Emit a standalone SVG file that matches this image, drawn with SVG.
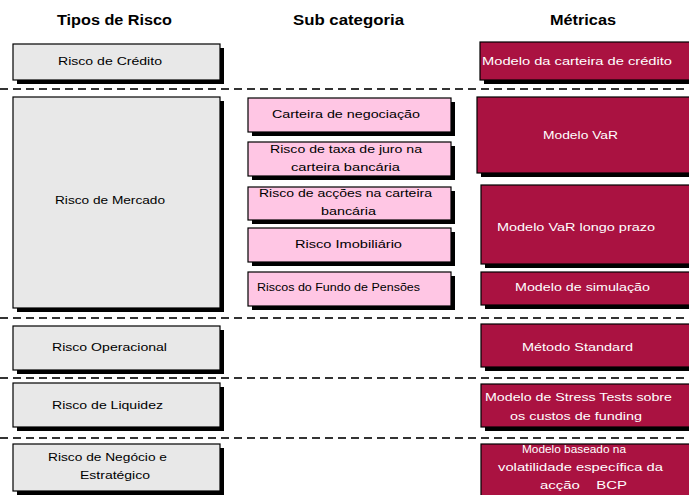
<svg xmlns="http://www.w3.org/2000/svg" width="689" height="495" viewBox="0 0 689 495">
<style>
.hd{font-family:"Liberation Sans",Arial,sans-serif;font-size:14px;font-weight:bold;fill:#000}
.t{font-family:"Liberation Sans",Arial,sans-serif;font-size:11px;fill:#000}
.w{font-family:"Liberation Sans",Arial,sans-serif;font-size:11px;fill:#fff}
.sh{fill:#000}
.g{fill:#e8e8e8;stroke:#000;stroke-width:1.2}
.p{fill:#ffc6e4;stroke:#000;stroke-width:1.2}
.r{fill:#aa1241;stroke:#000;stroke-width:1.2}
.d{stroke:#333;stroke-width:2;stroke-dasharray:8,5;fill:none}
</style>
<rect width="689" height="495" fill="#fff"/>
<g id="headers">
<text class="hd" x="57" y="25" textLength="115" lengthAdjust="spacingAndGlyphs">Tipos de Risco</text>
<text class="hd" x="293" y="25" textLength="111" lengthAdjust="spacingAndGlyphs">Sub categoria</text>
<text class="hd" x="550" y="25" textLength="66" lengthAdjust="spacingAndGlyphs">Métricas</text>
</g>
<g id="separators">
<line class="d" x1="0" y1="89" x2="689" y2="89"/>
<line class="d" x1="0" y1="318" x2="689" y2="318"/>
<line class="d" x1="0" y1="378" x2="689" y2="378"/>
<line class="d" x1="0" y1="438" x2="689" y2="438"/>
</g>
<g id="risco-credito">
<rect class="sh" x="17" y="48" width="207" height="36"/>
<rect class="g" x="13" y="44" width="207" height="36"/>
<text class="t" x="58" y="65" textLength="104" lengthAdjust="spacingAndGlyphs">Risco de Crédito</text>
</g>
<g id="risco-mercado">
<rect class="sh" x="17" y="101" width="207" height="211"/>
<rect class="g" x="13" y="97" width="207" height="211"/>
<text class="t" x="55" y="204" textLength="110" lengthAdjust="spacingAndGlyphs">Risco de Mercado</text>
</g>
<g id="risco-operacional">
<rect class="sh" x="17" y="330" width="207" height="44"/>
<rect class="g" x="13" y="326" width="207" height="44"/>
<text class="t" x="52" y="351" textLength="115" lengthAdjust="spacingAndGlyphs">Risco Operacional</text>
</g>
<g id="risco-liquidez">
<rect class="sh" x="17" y="387" width="207" height="44"/>
<rect class="g" x="13" y="383" width="207" height="44"/>
<text class="t" x="52" y="409" textLength="111" lengthAdjust="spacingAndGlyphs">Risco de Liquidez</text>
</g>
<g id="risco-negocio">
<rect class="sh" x="17" y="448" width="207" height="47"/>
<rect class="g" x="13" y="444" width="207" height="47"/>
<text class="t" x="48" y="461" textLength="119" lengthAdjust="spacingAndGlyphs">Risco de Negócio e</text>
<text class="t" x="80" y="479" textLength="70" lengthAdjust="spacingAndGlyphs">Estratégico</text>
</g>
<g id="sub-carteira-negociacao">
<rect class="sh" x="252" y="102" width="203" height="34"/>
<rect class="p" x="248" y="98" width="203" height="34"/>
<text class="t" x="272" y="118" textLength="148" lengthAdjust="spacingAndGlyphs">Carteira de negociação</text>
</g>
<g id="sub-taxa-juro">
<rect class="sh" x="252" y="146" width="203" height="34"/>
<rect class="p" x="248" y="142" width="203" height="34"/>
<text class="t" x="270" y="153" textLength="152" lengthAdjust="spacingAndGlyphs">Risco de taxa de juro na</text>
<text class="t" x="291" y="171" textLength="109" lengthAdjust="spacingAndGlyphs">carteira bancária</text>
</g>
<g id="sub-accoes">
<rect class="sh" x="252" y="191" width="203" height="33"/>
<rect class="p" x="248" y="187" width="203" height="33"/>
<text class="t" x="259" y="197" textLength="173" lengthAdjust="spacingAndGlyphs">Risco de acções na carteira</text>
<text class="t" x="321" y="215" textLength="55" lengthAdjust="spacingAndGlyphs">bancária</text>
</g>
<g id="sub-imobiliario">
<rect class="sh" x="252" y="232" width="203" height="34"/>
<rect class="p" x="248" y="228" width="203" height="34"/>
<text class="t" x="295" y="248" textLength="107" lengthAdjust="spacingAndGlyphs">Risco Imobiliário</text>
</g>
<g id="sub-fundo-pensoes">
<rect class="sh" x="252" y="276" width="203" height="34"/>
<rect class="p" x="248" y="272" width="203" height="34"/>
<text class="t" x="257" y="291" textLength="163" lengthAdjust="spacingAndGlyphs">Riscos do Fundo de Pensões</text>
</g>
<g id="met-carteira-credito">
<rect class="sh" x="484" y="46" width="220" height="38"/>
<rect class="r" x="480" y="42" width="220" height="38"/>
<text class="w" x="482" y="65" textLength="190" lengthAdjust="spacingAndGlyphs">Modelo da carteira de crédito</text>
</g>
<g id="met-var">
<rect class="sh" x="481" y="101" width="220" height="76"/>
<rect class="r" x="477" y="97" width="220" height="76"/>
<text class="w" x="543" y="139" textLength="75" lengthAdjust="spacingAndGlyphs">Modelo VaR</text>
</g>
<g id="met-var-longo">
<rect class="sh" x="485" y="189" width="220" height="79"/>
<rect class="r" x="481" y="185" width="220" height="79"/>
<text class="w" x="497" y="231" textLength="158" lengthAdjust="spacingAndGlyphs">Modelo VaR  longo prazo</text>
</g>
<g id="met-simulacao">
<rect class="sh" x="485" y="276" width="220" height="33"/>
<rect class="r" x="481" y="272" width="220" height="33"/>
<text class="w" x="515" y="291" textLength="135" lengthAdjust="spacingAndGlyphs">Modelo de simulação</text>
</g>
<g id="met-standard">
<rect class="sh" x="485" y="328" width="220" height="43"/>
<rect class="r" x="481" y="324" width="220" height="43"/>
<text class="w" x="522" y="351" textLength="111" lengthAdjust="spacingAndGlyphs">Método Standard</text>
</g>
<g id="met-stress">
<rect class="sh" x="485" y="388" width="220" height="43"/>
<rect class="r" x="481" y="384" width="220" height="43"/>
<text class="w" x="485" y="401" textLength="187" lengthAdjust="spacingAndGlyphs">Modelo de Stress Tests sobre</text>
<text class="w" x="510" y="420" textLength="132" lengthAdjust="spacingAndGlyphs">os custos de funding</text>
</g>
<g id="met-volatilidade">
<rect class="sh" x="485" y="448" width="220" height="52"/>
<rect class="r" x="481" y="444" width="220" height="52"/>
<text class="w" x="522" y="453" textLength="104" lengthAdjust="spacingAndGlyphs">Modelo baseado na</text>
<text class="w" x="498" y="471" textLength="165" lengthAdjust="spacingAndGlyphs">volatilidade específica da</text>
<text class="w" x="540" y="489" textLength="87" lengthAdjust="spacingAndGlyphs" xml:space="preserve">acção    BCP</text>
</g>
</svg>
